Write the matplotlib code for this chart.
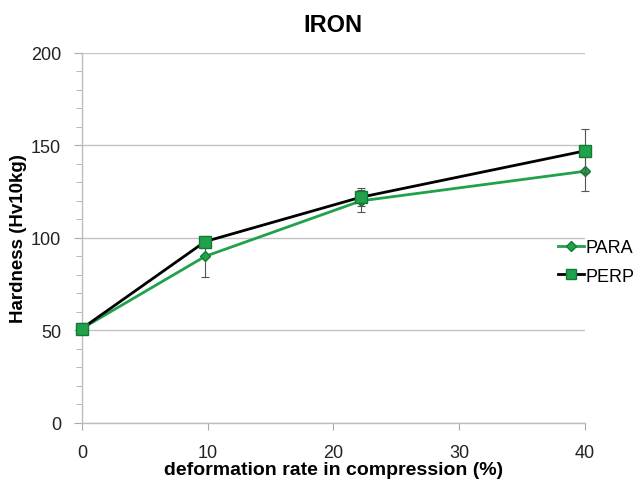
import numpy as np
import matplotlib
matplotlib.use("Agg")
import matplotlib.pyplot as plt
from matplotlib.ticker import MultipleLocator
from matplotlib.lines import Line2D

plt.rcParams['font.family'] = ['Liberation Sans', 'DejaVu Sans']

# data
deformation = [0, 9.8, 22.2, 40]
para = [51, 90, 120, 136]
para_err = [3, 11, 6, 10.5]
perp = [51, 98, 122, 147]
perp_err = [3, 2, 5, 12]

green = '#1fa24a'
edge_green = '#127a35'

fig = plt.figure(figsize=(6.35, 4.85), dpi=100)
ax = fig.add_axes([0.129, 0.126, 0.792, 0.763])

for y, err, col, mk, ms, z in [(para, para_err, green, 'D', 5, 3),
                                (perp, perp_err, 'black', 's', 8, 4)]:
    eb = ax.errorbar(deformation, y, yerr=err, color=col, lw=2,
                     marker=mk, ms=ms, mfc=green, mec=edge_green,
                     ecolor='#555555', elinewidth=0.8, capsize=3,
                     capthick=0.8, zorder=z)
    for art in eb.get_children():
        art.set_clip_on(False)

ax.set_xlim(0, 40)
ax.set_ylim(0, 200)
ax.xaxis.set_major_locator(MultipleLocator(10))
ax.yaxis.set_major_locator(MultipleLocator(50))
ax.yaxis.set_minor_locator(MultipleLocator(10))
ax.grid(axis='y', which='major', color='#c4c4c4', lw=1)
ax.set_axisbelow(True)

for s in ['top', 'right']:
    ax.spines[s].set_visible(False)
for s in ['left', 'bottom']:
    ax.spines[s].set_color('#bdbdbd')
    ax.spines[s].set_linewidth(1)
ax.tick_params(axis='both', which='both', color='#aaaaaa', labelsize=13,
               direction='out', labelcolor='#222222')
ax.tick_params(axis='y', which='major', length=6, pad=9)
ax.tick_params(axis='y', which='minor', length=4)
ax.tick_params(axis='x', which='major', length=5, pad=10)

ax.set_title('IRON', fontsize=17, fontweight='bold', pad=16)
ax.set_xlabel('deformation rate in compression (%)', fontsize=14,
              fontweight='bold', labelpad=0)
ax.set_ylabel('Hardness (Hv10kg)', fontsize=13.5, fontweight='bold',
              labelpad=3)

handles = [
    Line2D([], [], color=green, lw=2, marker='D', ms=5, mfc=green, mec=edge_green),
    Line2D([], [], color='black', lw=2, marker='s', ms=7, mfc=green, mec=edge_green),
]
ax.legend(handles, ['PARA', 'PERP'], loc='center left',
          bbox_to_anchor=(0.868, 0.458), bbox_transform=fig.transFigure,
          frameon=False, fontsize=13, handlelength=1.4, handletextpad=0.1,
          labelspacing=0.65, borderaxespad=0)

fig.savefig('out.png', dpi=100)
